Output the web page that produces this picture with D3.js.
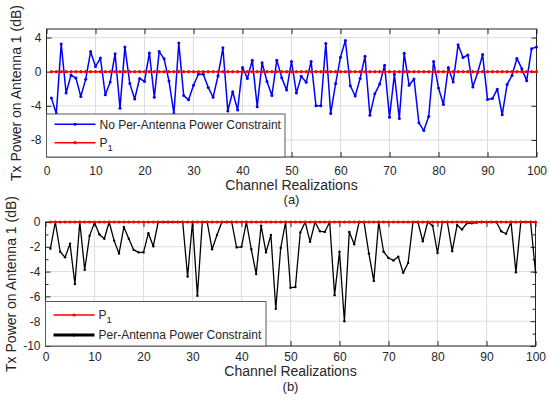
<!DOCTYPE html>
<html>
<head>
<meta charset="utf-8">
<script src="https://cdn.jsdelivr.net/npm/d3@7"></script>
<style>
  html, body { margin: 0; padding: 0; background: #fff; }
  svg { display: block; }
  text { font-family: "Liberation Sans", Arial, Helvetica, sans-serif; fill: #262626; }
</style>
</head>
<body>
<svg id="chart" width="549" height="401"></svg>
<script>
// ---------- data ----------
const channels = d3.range(1, 101);

const noConstraint = [
  -3.1, -4.9, 3.25, -2.5, -0.4, -0.75, -2.9, -0.9, 2.35, 0.6,
  1.6, -2.7, -1.2, 2.1, -4.3, 2.9, -1.4, -3.2, -0.8, -1.15,
  2.2, -3.0, 2.35, 1.5, -1.1, -4.9, 3.35, -2.8, -3.3, -1.6,
  -0.3, -0.3, -1.85, -3.0, -0.5, 2.8, -4.6, -2.35, -4.5, 0.5,
  -0.8, 1.35, -4.1, 1.05, -1.15, -2.8, 1.35, -0.7, -2.15, 1.2,
  -2.5, -0.55, -1.25, 1.2, -4.0, -4.0, 3.3, -4.9, -1.4, 1.7,
  3.65, -1.65, -2.85, -0.8, 1.8, -5.1, -2.6, -1.45, 0.75, -5.35,
  -0.3, -5.5, 2.15, -1.6, -0.85, -6.0, -6.9, -5.25, 1.2, -1.9,
  -3.85, 0.5, -1.2, 3.15, 1.65, 1.95, -1.8, -0.1, 2.0, -3.25,
  -3.15, -2.05, -5.05, -1.5, -0.45, 1.55, 0.35, -1.05, 2.7, 2.9
];

const perAntenna = [
  -2.15, 0, -2.4, -2.85, -1.75, -5.0, 0, -3.85, -1.1, -0.05,
  -1.0, -1.35, 0, -1.5, -2.55, -0.4, -1.35, -2.25, -2.45, -2.45,
  -0.9, -1.95, 0, 0, 0, 0, 0, 0, -4.4, 0,
  -5.95, 0, 0, -2.2, -1.05, 0, 0, 0, -2.05, -2.0,
  0, -2.2, -4.2, -0.3, -2.45, -1.05, -7.0, -2.1, 0, -5.3,
  -5.25, -0.85, 0, -1.6, 0, -0.75, -0.8, 0, -5.9, -2.4,
  -8.0, -0.8, -1.8, 0, 0, -2.55, -4.75, 0, -2.4, -2.9,
  -3.1, -2.8, -4.1, -3.3, 0, 0, -1.55, 0, -0.3, -2.5,
  0, 0, -2.35, -0.25, -0.6, -0.1, -0.1, -0.05, 0, 0,
  0, 0, -0.75, -0.95, 0, -4.05, 0, 0, 0, -4.05
];

const p1 = [
  0, 0, 0, 0, 0, 0, 0, 0, 0, 0,
  0, 0, 0, 0, 0, 0, 0, 0, 0, 0,
  0, 0, 0, 0, 0, 0, 0, 0, 0, 0,
  0, 0, 0, 0, 0, 0, 0, 0, 0, 0,
  0, 0, 0, 0, 0, 0, 0, 0, 0, 0,
  0, 0, 0, 0, 0, 0, 0, 0, 0, 0,
  0, 0, 0, 0, 0, 0, 0, 0, 0, 0,
  0, 0, 0, 0, 0, 0, 0, 0, 0, 0,
  0, 0, 0, 0, 0, 0, 0, 0, 0, 0,
  0, 0, 0, 0, 0, 0, 0, 0, 0, 0
];

const xTicks = [0, 10, 20, 30, 40, 50, 60, 70, 80, 90, 100];
const yTicksTop = [-8, -4, 0, 4];
const yTicksBottom = [-10, -8, -6, -4, -2, 0];
const yMinorBottom = [-9, -7, -5, -3, -1];

const xLabel = "Channel Realizations";
const yLabel = "Tx Power on Antenna 1 (dB)";
const legendTop = ["No Per-Antenna Power Constraint", "P"];
const legendBottom = ["P", "Per-Antenna Power Constraint"];

// ---------- drawing ----------
const svg = d3.select("#chart");
const AX = "#262626", GRID = "#dedede";

function panel(cfg) {
  const x = d3.scaleLinear().domain([0, 100]).range(cfg.xr);
  const y = d3.scaleLinear().domain(cfg.yd).range(cfg.yr);
  const g = svg.append("g");
  const [x0, x1] = cfg.xr, [y0, y1] = [cfg.yr[1], cfg.yr[0]];

  // grid
  g.append("g").selectAll("line").data(xTicks).join("line")
    .attr("x1", d => x(d)).attr("x2", d => x(d)).attr("y1", y0).attr("y2", y1)
    .attr("stroke", GRID).attr("stroke-width", 1);
  g.append("g").selectAll("line").data(cfg.yTicks).join("line")
    .attr("y1", d => y(d)).attr("y2", d => y(d)).attr("x1", x0).attr("x2", x1)
    .attr("stroke", GRID).attr("stroke-width", 1);

  const fmt = d => String(d);
  const styleAxis = sel => {
    sel.select(".domain").remove();
    sel.selectAll(".tick line").attr("stroke", AX);
    sel.selectAll(".tick text").attr("fill", AX).style("font-size", "12px")
      .style("font-family", '"Liberation Sans", Arial, sans-serif');
  };
  g.append("g").attr("transform", `translate(0,${y1})`)
    .call(d3.axisBottom(x).tickValues(xTicks).tickFormat(fmt).tickSize(-5).tickPadding(cfg.xPad))
    .call(styleAxis);
  g.append("g").attr("transform", `translate(0,${y0})`)
    .call(d3.axisTop(x).tickValues(xTicks).tickFormat("").tickSize(-5))
    .call(styleAxis);
  g.append("g").attr("transform", `translate(${x0},0)`)
    .call(d3.axisLeft(y).tickValues(cfg.yTicks).tickFormat(fmt).tickSize(-5).tickPadding(5))
    .call(styleAxis);
  g.append("g").attr("transform", `translate(${x1},0)`)
    .call(d3.axisRight(y).tickValues(cfg.yTicks).tickFormat("").tickSize(-5))
    .call(styleAxis);
  if (cfg.yMinor) {
    g.append("g").attr("transform", `translate(${x0},0)`)
      .call(d3.axisLeft(y).tickValues(cfg.yMinor).tickFormat("").tickSize(-3)).call(styleAxis);
    g.append("g").attr("transform", `translate(${x1},0)`)
      .call(d3.axisRight(y).tickValues(cfg.yMinor).tickFormat("").tickSize(-3)).call(styleAxis);
  }
  // frame
  g.append("rect").attr("x", x0).attr("y", y0).attr("width", x1 - x0).attr("height", y1 - y0)
    .attr("fill", "none").attr("stroke", AX).attr("stroke-width", 1);

  const line = d3.line().x((d, i) => x(channels[i])).y(d => y(d));
  cfg.series.forEach(s => {
    g.append("path").datum(s.values).attr("d", line)
      .attr("fill", "none").attr("stroke", s.color).attr("stroke-width", s.width)
      .attr("stroke-linejoin", "round");
    g.append("g").selectAll("circle").data(s.values).join("circle")
      .attr("cx", (d, i) => x(channels[i])).attr("cy", d => y(d))
      .attr("r", s.r).attr("fill", s.color);
  });

  // legend
  const L = cfg.legend;
  g.append("rect").attr("x", L.x).attr("y", L.y).attr("width", L.w).attr("height", L.h)
    .attr("fill", "#fff").attr("stroke", "#5a5a5a").attr("stroke-width", 1);
  L.items.forEach((it, i) => {
    const cy = L.rows[i];
    g.append("line").attr("x1", L.x + 8).attr("x2", L.x + 49).attr("y1", cy).attr("y2", cy)
      .attr("stroke", it.color).attr("stroke-width", it.width);
    g.append("circle").attr("cx", L.x + 28.5).attr("cy", cy).attr("r", it.r).attr("fill", it.color);
    const t = g.append("text").attr("x", L.x + 53).attr("y", cy + 4.3).style("font-size", "12px");
    t.append("tspan").text(it.label);
    if (it.sub) t.append("tspan").attr("dy", 4).style("font-size", "9.5px").text(it.sub);
  });

  // labels
  const xm = (x0 + x1) / 2;
  svg.append("text").attr("x", xm).attr("y", cfg.xLabelY).attr("text-anchor", "middle")
    .style("font-size", "14px").text(xLabel);
  svg.append("text").attr("x", xm).attr("y", cfg.capY).attr("text-anchor", "middle")
    .style("font-size", "13px").text(cfg.caption);
  svg.append("text").attr("transform", `translate(${cfg.yLabelX},${(y0 + y1) / 2}) rotate(-90)`)
    .attr("text-anchor", "middle").style("font-size", "14px").text(yLabel);
}

panel({
  xr: [46.5, 536.5], yd: [-10, 5], yr: [157, 29],
  yTicks: yTicksTop, xPad: 9.5,
  series: [
    { values: noConstraint, color: "#0000ff", width: 1.5, r: 1.5 },
    { values: p1, color: "#ff0000", width: 1.5, r: 1.6 }
  ],
  legend: { x: 46.5, y: 114, w: 238.5, h: 43, rows: [124.3, 142.7],
    items: [
      { label: legendTop[0], color: "#0000ff", width: 1.5, r: 1.5 },
      { label: legendTop[1], sub: "1", color: "#ff0000", width: 1.5, r: 1.6 }
    ] },
  xLabelY: 189.5, capY: 204, caption: "(a)", yLabelX: 21
});

panel({
  xr: [45.5, 535.5], yd: [-10, 0], yr: [346, 222],
  yTicks: yTicksBottom, yMinor: yMinorBottom, xPad: 6.5,
  series: [
    { values: perAntenna, color: "#000000", width: 1.3, r: 1.2 },
    { values: p1, color: "#ff0000", width: 1.5, r: 1.6 }
  ],
  legend: { x: 45.5, y: 301.5, w: 220.5, h: 44.5, rows: [315, 335],
    items: [
      { label: legendBottom[0], sub: "1", color: "#ff0000", width: 1.5, r: 1.6 },
      { label: legendBottom[1], color: "#000000", width: 3, r: 1.5 }
    ] },
  xLabelY: 375.5, capY: 391, caption: "(b)", yLabelX: 15.5
});
</script>
</body>
</html>
